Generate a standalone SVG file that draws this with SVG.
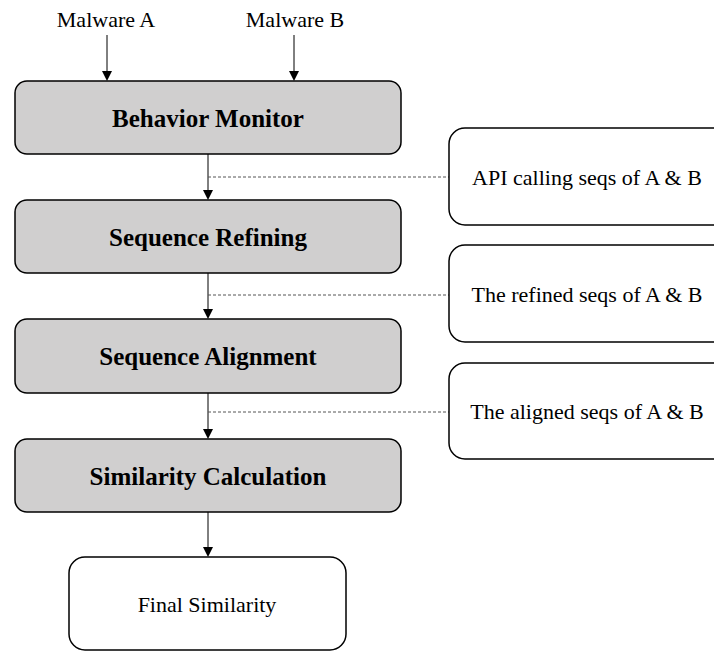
<svg xmlns="http://www.w3.org/2000/svg" width="714" height="652" viewBox="0 0 714 652">
<defs>
<style>
.proc{fill:#d0cfcf;stroke:#000;stroke-width:1.5}
.data{fill:#fff;stroke:#000;stroke-width:1.5}
.t{font-family:"Liberation Serif","Times New Roman",serif;fill:#000;text-anchor:middle}
.b{font-weight:bold;font-size:25px}
.n{font-size:22px}
.line{stroke:#000;stroke-width:1;fill:none}
.dash{stroke:#555;stroke-width:1;stroke-dasharray:3,2;fill:none}
</style>
</defs>
<rect width="714" height="652" fill="#fff"/>
<g id="connectors">
<path class="line" d="M107,35 V72"/>
<path d="M102,71 L112,71 L107,81 Z"/>
<path class="line" d="M294,35 V72"/>
<path d="M289,71 L299,71 L294,81 Z"/>
<path class="line" d="M208,154 V191"/>
<path d="M203,190 L213,190 L208,200 Z"/>
<path class="line" d="M208,273 V310"/>
<path d="M203,309 L213,309 L208,319 Z"/>
<path class="line" d="M208,393 V430"/>
<path d="M203,429 L213,429 L208,439 Z"/>
<path class="line" d="M208,512 V548"/>
<path d="M203,547 L213,547 L208,557 Z"/>
<path class="dash" d="M208,177 H449"/>
<path class="dash" d="M208,295 H449"/>
<path class="dash" d="M208,412 H449"/>
</g>
<g id="malwareA"><text class="t n" x="106" y="27">Malware A</text></g>
<g id="malwareB"><text class="t n" x="295" y="27">Malware B</text></g>
<g id="behaviorMonitor">
<rect class="proc" x="15" y="81" width="386" height="73" rx="12"/>
<text class="t b" x="208" y="127">Behavior Monitor</text>
</g>
<g id="sequenceRefining">
<rect class="proc" x="15" y="200" width="386" height="73" rx="12"/>
<text class="t b" x="208" y="246">Sequence Refining</text>
</g>
<g id="sequenceAlignment">
<rect class="proc" x="15" y="319" width="386" height="74" rx="12"/>
<text class="t b" x="208" y="365">Sequence Alignment</text>
</g>
<g id="similarityCalculation">
<rect class="proc" x="15" y="439" width="386" height="73" rx="12"/>
<text class="t b" x="208" y="485">Similarity Calculation</text>
</g>
<g id="finalSimilarity">
<rect class="data" x="69" y="557" width="277" height="93" rx="16"/>
<text class="t" style="font-size:22px" x="207" y="612">Final Similarity</text>
</g>
<g id="apiSeqs">
<rect class="data" x="449" y="128" width="280" height="97" rx="16"/>
<text class="t n" x="587" y="185">API calling seqs of A &amp; B</text>
</g>
<g id="refinedSeqs">
<rect class="data" x="449" y="245" width="280" height="97" rx="16"/>
<text class="t n" x="587" y="302">The refined seqs of A &amp; B</text>
</g>
<g id="alignedSeqs">
<rect class="data" x="449" y="363" width="280" height="96" rx="16"/>
<text class="t n" x="587" y="419">The aligned seqs of A &amp; B</text>
</g>
</svg>
